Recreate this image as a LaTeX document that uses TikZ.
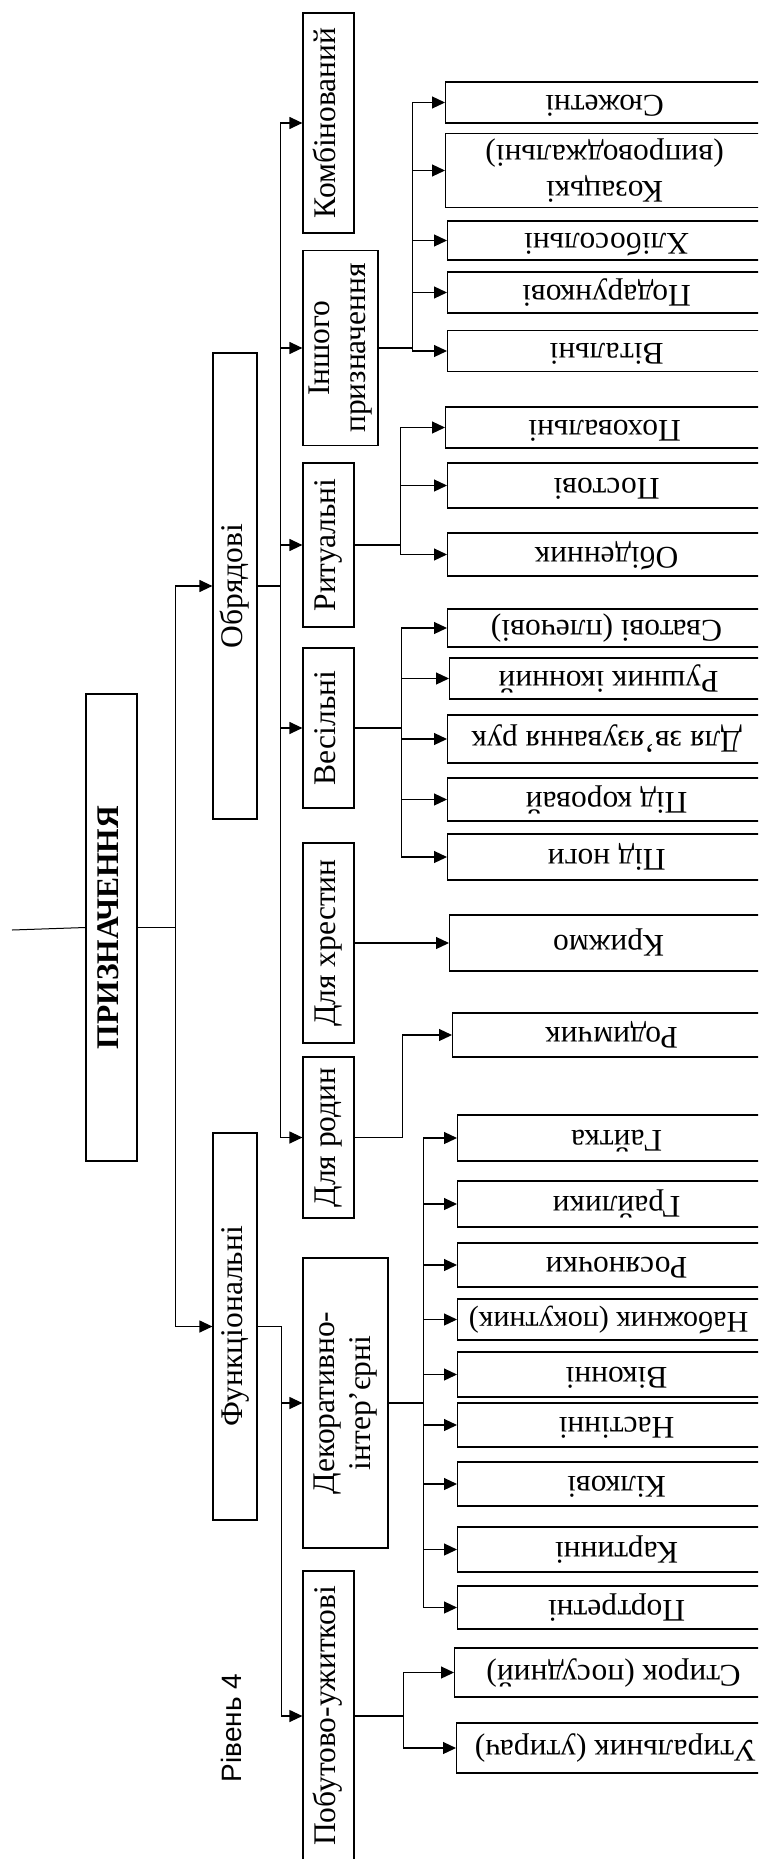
\documentclass[tikz,border=0pt]{standalone}
\usepackage{fontspec}
\setmainfont{Liberation Serif}
\newfontfamily\levelfont{Liberation Sans}
\usepackage{graphicx}
\usetikzlibrary{arrows.meta}

\newcommand{\boxfont}{\fontsize{31.5}{36}\selectfont}
\newcommand{\vlab}[1]{\rotatebox{90}{\begin{tabular}{@{}c@{}}#1\end{tabular}}}
\newcommand{\flab}[1]{\rotatebox{180}{\begin{tabular}{@{}c@{}}#1\end{tabular}}}

\begin{document}
\begin{tikzpicture}[x=1pt, y=-1pt,
  lvl/.style={rectangle, draw, line width=1.2pt, inner sep=1pt,
              align=center, font=\boxfont},
  leaf/.style={rectangle, draw, line width=1.2pt, inner sep=1pt,
               anchor=west, minimum width=318pt, font=\boxfont},
  arr/.style={-{Triangle[length=13pt, width=12pt]}, line width=1.2pt},
  feed/.style={line width=1pt}
]
\useasboundingbox (0,0) rectangle (758,1859);
\clip (0,0) rectangle (758,1859);

%% ─── Рівень 1-2 ─────────────────────────────────────────────
\node[lvl, minimum width=51pt, minimum height=467pt, font=\boxfont\bfseries]
    (root) at (111.5,927.5) {\vlab{ПРИЗНАЧЕННЯ}};
\node[lvl, minimum width=44pt, minimum height=466pt] (obr) at (235,586)    {\vlab{Обрядові}};
\node[lvl, minimum width=44pt, minimum height=387pt] (fun) at (235,1326.5) {\vlab{Функціональні}};
\coordinate (lead) at (12,930);
\draw[feed] (lead) -- (root.west);
\draw[arr] (root.east) -- ++(38,0) |- (obr.west);
\draw[arr] (root.east) -- ++(38,0) |- (fun.west);

%% ─── Рівень 3 ───────────────────────────────────────────────
\node[lvl, minimum width=51pt, minimum height=220pt] (komb) at (328.5,123)    {\vlab{Комбінований}};
\node[lvl, minimum width=75pt, minimum height=195pt] (insh) at (340.5,348)    {\vlab{Іншого\\призначення}};
\node[lvl, minimum width=51pt, minimum height=164pt] (rit)  at (328.5,545)    {\vlab{Ритуальні}};
\node[lvl, minimum width=51pt, minimum height=160pt] (ves)  at (328.5,728)    {\vlab{Весільні}};
\node[lvl, minimum width=51pt, minimum height=200pt] (khr)  at (328.5,943)    {\vlab{Для хрестин}};
\node[lvl, minimum width=51pt, minimum height=161pt] (rod)  at (328.5,1137.5) {\vlab{Для родин}};
\node[lvl, minimum width=85pt, minimum height=290pt] (dek)  at (345.5,1403)   {\vlab{Декоративно-\\інтер’єрні}};
\node[lvl, minimum width=51pt, minimum height=290pt] (pob)  at (328.5,1716)   {\vlab{Побутово-ужиткові}};
\draw[arr] (obr.east) -- ++(23,0) |- (komb.west);
\draw[arr] (obr.east) -- ++(23,0) |- (insh.west);
\draw[arr] (obr.east) -- ++(23,0) |- (rit.west);
\draw[arr] (obr.east) -- ++(23,0) |- (ves.west);
\draw[arr] (obr.east) -- ++(23,0) |- (rod.west);
\draw[arr] (fun.east) -- ++(24,0) |- (dek.west);
\draw[arr] (fun.east) -- ++(24,0) |- (pob.west);

\node[font=\levelfont\fontsize{28}{32}\selectfont] (note) at (231,1728) {\rotatebox{90}{Рівень 4}};

%% ─── Рівень 4: іншого призначення ───────────────────────────
\node[leaf, minimum height=41pt] (syuzh) at (445,102.5) {\flab{Сюжетні}};
\node[leaf, minimum height=73pt] (koz)   at (445,170.5) {\flab{Козацькі\\(випроводжальні)}};
\node[leaf, minimum height=39pt] (khlib) at (447,240.5) {\flab{Хлібосольні}};
\node[leaf, minimum height=41pt] (podar) at (447,292.5) {\flab{Подарункові}};
\node[leaf, minimum height=41pt] (vital) at (447,351)   {\flab{Вітальні}};
\draw[arr] (insh.east) -- ++(34,0) |- (syuzh.west);
\draw[arr] (insh.east) -- ++(34,0) |- (koz.west);
\draw[arr] (insh.east) -- ++(34,0) |- (khlib.west);
\draw[arr] (insh.east) -- ++(34,0) |- (podar.west);
\draw[arr] (insh.east) -- ++(34,0) |- (vital.west);

%% ─── Рівень 4: ритуальні ────────────────────────────────────
\node[leaf, minimum height=41pt] (pokh)  at (445,427.5) {\flab{Поховальні}};
\node[leaf, minimum height=45pt] (post)  at (447,485.5) {\flab{Постові}};
\node[leaf, minimum height=43pt] (obid)  at (447,554.5) {\flab{Обіденник}};
\draw[arr] (rit.east) -- ++(46,0) |- (pokh.west);
\draw[arr] (rit.east) -- ++(46,0) |- (post.west);
\draw[arr] (rit.east) -- ++(46,0) |- (obid.west);

%% ─── Рівень 4: весільні ─────────────────────────────────────
\node[leaf, minimum height=38pt] (svat)  at (447,628)   {\flab{Сватові (плечові)}};
\node[leaf, minimum height=41pt] (rush)  at (449,678.5) {\flab{Рушник іконний}};
\node[leaf, minimum height=48pt] (zvyaz) at (447,739)   {\flab{Для зв’язування рук}};
\node[leaf, minimum height=43pt] (korov) at (447,799.5) {\flab{Під коровай}};
\node[leaf, minimum height=46pt] (nogy)  at (447,857)   {\flab{Під ноги}};
\draw[arr] (ves.east) -- ++(47,0) |- (svat.west);
\draw[arr] (ves.east) -- ++(47,0) |- (rush.west);
\draw[arr] (ves.east) -- ++(47,0) |- (zvyaz.west);
\draw[arr] (ves.east) -- ++(47,0) |- (korov.west);
\draw[arr] (ves.east) -- ++(47,0) |- (nogy.west);

%% ─── Рівень 4: хрестини, родини ─────────────────────────────
\node[leaf, minimum height=56pt] (kryzh) at (449,943)    {\flab{Крижмо}};
\node[leaf, minimum height=44pt] (rodym) at (452,1035)   {\flab{Родимчик}};
\draw[arr] (khr.east) -- (kryzh.west);
\draw[arr] (rod.east) -- ++(48,0) |- (rodym.west);

%% ─── Рівень 4: декоративно-інтер'єрні ───────────────────────
\node[leaf, minimum height=46pt] (gajt)  at (457,1138)   {\flab{Гайтка}};
\node[leaf, minimum height=46pt] (grajl) at (457,1204)   {\flab{Грайлики}};
\node[leaf, minimum height=44pt] (rosya) at (457,1265)   {\flab{Росяночки}};
\node[leaf, minimum height=41pt] (nabozh) at (457,1319.5)
    {\flab{\fontsize{30}{36}\selectfont\hspace{16pt}Набожник (покутник)}};
\node[leaf, minimum height=45pt] (vikon) at (457,1374.5) {\flab{Віконні}};
\node[leaf, minimum height=44pt] (nast)  at (457,1425)   {\flab{Настінні}};
\node[leaf, minimum height=44pt] (kilk)  at (457,1484)   {\flab{Кілкові}};
\node[leaf, minimum height=45pt] (kart)  at (457,1549.5) {\flab{Картинні}};
\node[leaf, minimum height=43pt] (portr) at (457,1607.5) {\flab{Портретні}};
\draw[arr] (dek.east) -- ++(35,0) |- (gajt.west);
\draw[arr] (dek.east) -- ++(35,0) |- (grajl.west);
\draw[arr] (dek.east) -- ++(35,0) |- (rosya.west);
\draw[arr] (dek.east) -- ++(35,0) |- (nabozh.west);
\draw[arr] (dek.east) -- ++(35,0) |- (vikon.west);
\draw[arr] (dek.east) -- ++(35,0) |- (nast.west);
\draw[arr] (dek.east) -- ++(35,0) |- (kilk.west);
\draw[arr] (dek.east) -- ++(35,0) |- (kart.west);
\draw[arr] (dek.east) -- ++(35,0) |- (portr.west);

%% ─── Рівень 4: побутово-ужиткові ────────────────────────────
\node[leaf, minimum height=49pt] (styr)  at (454,1672.5) {\flab{Стирок (посудний)}};
\node[leaf, minimum height=50pt] (utyr)  at (456,1748)   {\flab{Утиральник (утирач)}};
\draw[arr] (pob.east) -- ++(49,0) |- (styr.west);
\draw[arr] (pob.east) -- ++(49,0) |- (utyr.west);

\end{tikzpicture}
\end{document}
